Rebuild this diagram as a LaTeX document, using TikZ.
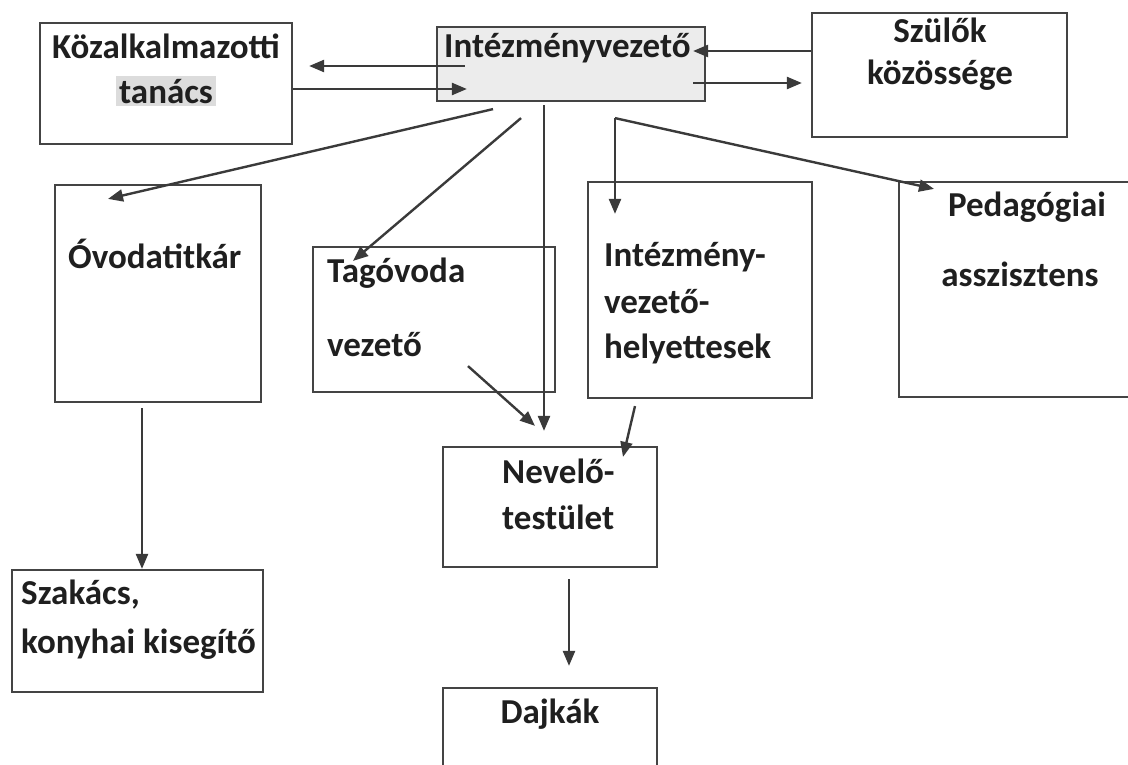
\documentclass[tikz,border=0pt]{standalone}
\usepackage{fontspec}
\setmainfont{Carlito}
\usetikzlibrary{arrows.meta,positioning}
\definecolor{boxgray}{HTML}{444444}
\definecolor{linegray}{HTML}{3A3A3A}
\definecolor{headfill}{HTML}{ECECEC}
\definecolor{markfill}{HTML}{DCDCDC}
\begin{document}
\begin{tikzpicture}[x=1pt, y=-1pt,
    box/.style={draw=boxgray, line width=2.2pt, rectangle, inner sep=0pt},
    txt/.style={font=\fontsize{35}{45}\selectfont\bfseries, text=black!88, inner sep=0pt},
    arr/.style={draw=linegray, line width=2.4pt, -{Triangle[length=15pt,width=12pt]}}]
    \useasboundingbox (0,0) rectangle (1128,764);
    \clip (0,0) rectangle (1128,764);

    % boxes
    \node[box, minimum width=252pt, minimum height=121pt] (kozalk) at (166,83.5) {};
    \node[box, fill=headfill, minimum width=268pt, minimum height=74pt] (intvez) at (571,64) {};
    \node[box, minimum width=255pt, minimum height=124pt] (szulok) at (939.5,75) {};
    \node[box, minimum width=206pt, minimum height=217pt] (ovoda) at (158,293.5) {};
    \node[box, minimum width=242pt, minimum height=145pt] (tagovoda) at (434,319.5) {};
    \node[box, minimum width=224pt, minimum height=216pt] (helyettes) at (700,290) {};
    \node[box, minimum width=241pt, minimum height=215pt] (pedag) at (1019.5,289.5) {};
    \node[box, minimum width=214pt, minimum height=120pt] (nevelo) at (550,507) {};
    \node[box, minimum width=251pt, minimum height=122pt] (szakacs) at (137.5,631) {};
    \node[box, minimum width=214pt, minimum height=112pt] (dajkak) at (550,744) {};

    % texts
    \node[txt, anchor=base] (kozalk1) at (166,58) {Közalkalmazotti};
    \node[txt, anchor=base, fill=markfill, inner sep=3pt] (kozalk2) at (166,103) {tanács};
    \node[txt, anchor=base west] (intvez1) at (444,57) {Intézményvezető};
    \node[txt, anchor=base] (szulok1) at (940,42) {Szülők};
    \node[txt, anchor=base] (szulok2) at (940,84) {közössége};
    \node[txt, anchor=base west] (ovoda1) at (68,268) {Óvodatitkár};
    \node[txt, anchor=base west] (tagovoda1) at (327,282) {Tagóvoda};
    \node[txt, anchor=base west] (tagovoda2) at (327,356) {vezető};
    \node[txt, anchor=base west] (helyettes1) at (604,266) {Intézmény-};
    \node[txt, anchor=base west] (helyettes2) at (604,313) {vezető-};
    \node[txt, anchor=base west] (helyettes3) at (604,358) {helyettesek};
    \node[txt, anchor=base] (pedag1) at (1027,216) {Pedagógiai};
    \node[txt, anchor=base] (pedag2) at (1020,286) {asszisztens};
    \node[txt, anchor=base west] (nevelo1) at (502,483) {Nevelő-};
    \node[txt, anchor=base west] (nevelo2) at (502,529) {testület};
    \node[txt, anchor=base west] (szakacs1) at (21,604) {Szakács,};
    \node[txt, anchor=base west] (szakacs2) at (21,653) {konyhai kisegítő};
    \node[txt, anchor=base] (dajkak1) at (550,723) {Dajkák};

    % connectors
    \coordinate (fork) at ([shift={(44,16)}]intvez.south);
    \draw[arr] ([shift={(29,2)}]intvez.west) -- ([shift={(16,-17.5)}]kozalk.east);
    \draw[arr] ([shift={(0,5.5)}]kozalk.east) -- ([shift={(31,25)}]intvez.west);
    \draw[arr] ([shift={(0,-24)}]szulok.west) -- ([shift={(-13,-13)}]intvez.east);
    \draw[arr] ([shift={(-13,19)}]intvez.east) -- ([shift={(-9,8)}]szulok.west);
    \draw[arr] ([shift={(-78,7)}]intvez.south) -- ([shift={(-50,15)}]ovoda.north);
    \draw[arr] ([shift={(-50,16)}]intvez.south) -- ([shift={(-81,15)}]tagovoda.north);
    \draw[arr] ([shift={(-27,3)}]intvez.south) -- ([shift={(-6,-15)}]nevelo.north);
    \draw[arr] (fork) -- ([shift={(-85,33)}]helyettes.north);
    \draw[arr] (fork) -- ([shift={(-85.5,8)}]pedag.north);
    \draw[arr] ([shift={(34,-27)}]tagovoda.south) -- ([shift={(-15,-20)}]nevelo.north);
    \draw[arr] ([shift={(-65,7)}]helyettes.south) -- ([shift={(73,11)}]nevelo.north);
    \draw[arr] ([shift={(-16,5)}]ovoda.south) -- ([shift={(4.5,0)}]szakacs.north);
    \draw[arr] ([shift={(19,11)}]nevelo.south) -- ([shift={(19,-21)}]dajkak.north);
\end{tikzpicture}
\end{document}
